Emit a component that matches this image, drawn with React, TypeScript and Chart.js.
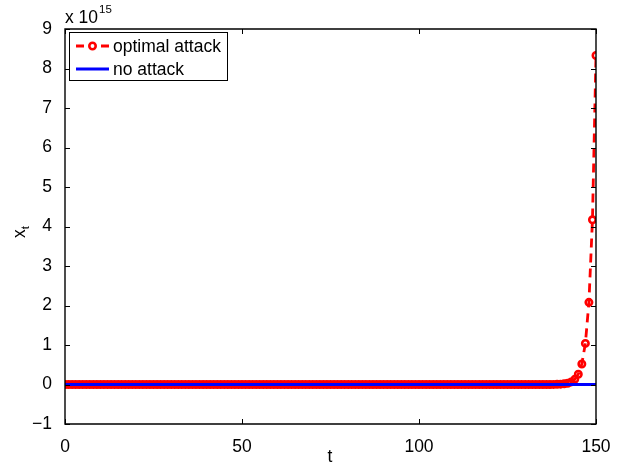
import React, { useEffect, useRef } from "react";
import { Chart, registerables } from "chart.js";

Chart.register(...registerables);

// x_t in units of 1e15, t = 0..150
const attackValues = [
  0, 0, 0, 0, 0, 0, 0, 0, 0, 0, // 0-9
  0, 0, 0, 0, 0, 0, 0, 0, 0, 0, // 10-19
  0, 0, 0, 0, 0, 0, 0, 0, 0, 0, // 20-29
  0, 0, 0, 0, 0, 0, 0, 0, 0, 0, // 30-39
  0, 0, 0, 0, 0, 0, 0, 0, 0, 0, // 40-49
  0, 0, 0, 0, 0, 0, 0, 0, 0, 0, // 50-59
  0, 0, 0, 0, 0, 0, 0, 0, 0, 0, // 60-69
  0, 0, 0, 0, 0, 0, 0, 0, 0, 0, // 70-79
  0, 0, 0, 0, 0, 0, 0, 0, 0, 0, // 80-89
  0, 0, 0, 0, 0, 0, 0, 0, 0, 0, // 90-99
  0, 0, 0, 0, 0, 0, 0, 0, 0, 0, // 100-109
  0, 0, 0, 0, 0, 0, 0, 0, 0, 0, // 110-119
  0, 0, 0, 0, 0, 0, 0, 0, 0, 0, // 120-129
  0, 0, 0, 0, 0, 0, 0, // 130-136
  0.001, 0.002, 0.004, 0.008, 0.016, 0.033, 0.065, // 137-143
  0.13, 0.26, 0.52, 1.04, 2.08, 4.17, 8.33, // 144-150
];

const noAttackValues = [
  0, 0, 0, 0, 0, 0, 0, 0, 0, 0,
  0, 0, 0, 0, 0, 0, 0, 0, 0, 0,
  0, 0, 0, 0, 0, 0, 0, 0, 0, 0,
  0, 0, 0, 0, 0, 0, 0, 0, 0, 0,
  0, 0, 0, 0, 0, 0, 0, 0, 0, 0,
  0, 0, 0, 0, 0, 0, 0, 0, 0, 0,
  0, 0, 0, 0, 0, 0, 0, 0, 0, 0,
  0, 0, 0, 0, 0, 0, 0, 0, 0, 0,
  0, 0, 0, 0, 0, 0, 0, 0, 0, 0,
  0, 0, 0, 0, 0, 0, 0, 0, 0, 0,
  0, 0, 0, 0, 0, 0, 0, 0, 0, 0,
  0, 0, 0, 0, 0, 0, 0, 0, 0, 0,
  0, 0, 0, 0, 0, 0, 0, 0, 0, 0,
  0, 0, 0, 0, 0, 0, 0, 0, 0, 0,
  0, 0, 0, 0, 0, 0, 0, 0, 0, 0,
  0,
];

const xTicks = [0, 50, 100, 150];
const yTicks = [-1, 0, 1, 2, 3, 4, 5, 6, 7, 8, 9];
const seriesNames = ["optimal attack", "no attack"];
const xTitle = "t";
const yTitleMain = "x";
const yTitleSub = "t";
const exponentLabel = "15";

const FONT = '"Liberation Sans", Arial, Helvetica, sans-serif';
const FS = 17.5;
const RED = "#ff0000";
const BLUE = "#0000ff";

const overlayPlugin = {
  id: "matlabOverlay",
  afterDraw(chart: any) {
    const { ctx, chartArea: a, scales } = chart;
    const xs = scales.x;
    const ys = scales.y;
    ctx.save();
    // box
    ctx.strokeStyle = "#000";
    ctx.lineWidth = 1.4;
    ctx.setLineDash([]);
    const L = Math.round(a.left);
    const R = Math.round(a.right);
    const T = Math.round(a.top);
    const B = Math.round(a.bottom);
    ctx.beginPath();
    ctx.rect(L, T, R - L, B - T);
    ctx.stroke();
    // ticks inward
    const tl = 5;
    ctx.lineWidth = 1;
    ctx.beginPath();
    for (const v of xTicks) {
      const px = Math.round(xs.getPixelForValue(v)) + 0.5;
      ctx.moveTo(px, B);
      ctx.lineTo(px, B - tl);
      ctx.moveTo(px, T);
      ctx.lineTo(px, T + tl);
    }
    for (const v of yTicks) {
      const py = Math.round(ys.getPixelForValue(v)) + 0.5;
      ctx.moveTo(L, py);
      ctx.lineTo(L + tl, py);
      ctx.moveTo(R, py);
      ctx.lineTo(R - tl, py);
    }
    ctx.stroke();

    // exponent label
    ctx.fillStyle = "#000";
    ctx.textBaseline = "alphabetic";
    ctx.textAlign = "left";
    ctx.font = `${FS}px ${FONT}`;
    ctx.fillText("x 10", 65, 23);
    const w = ctx.measureText("x 10").width;
    ctx.font = `11.5px ${FONT}`;
    ctx.fillText(exponentLabel, 65 + w + 1, 13);

    // x title
    ctx.font = `${FS}px ${FONT}`;
    ctx.textAlign = "center";
    ctx.fillText(xTitle, 330, 462);

    // y title rotated
    ctx.save();
    ctx.translate(25, 232);
    ctx.rotate(-Math.PI / 2);
    ctx.textAlign = "left";
    ctx.font = `${FS}px ${FONT}`;
    const mw = ctx.measureText(yTitleMain).width;
    const sub = 11.5;
    ctx.font = `${sub}px ${FONT}`;
    const sw = ctx.measureText(yTitleSub).width;
    const start = -(mw + sw) / 2;
    ctx.font = `${FS}px ${FONT}`;
    ctx.fillText(yTitleMain, start, 0);
    ctx.font = `${sub}px ${FONT}`;
    ctx.fillText(yTitleSub, start + mw, 4);
    ctx.restore();

    // legend
    const lx = 69.5, ly = 32.5, lw = 158, lh = 48;
    ctx.fillStyle = "#fff";
    ctx.fillRect(lx, ly, lw, lh);
    ctx.strokeStyle = "#000";
    ctx.lineWidth = 1;
    ctx.strokeRect(lx, ly, lw, lh);
    const r1 = 46, r2 = 69;
    ctx.strokeStyle = RED;
    ctx.lineWidth = 2.8;
    ctx.beginPath();
    ctx.moveTo(76, r1);
    ctx.lineTo(84, r1);
    ctx.moveTo(101, r1);
    ctx.lineTo(109, r1);
    ctx.stroke();
    ctx.beginPath();
    ctx.arc(92.5, r1, 3.2, 0, Math.PI * 2);
    ctx.lineWidth = 2.6;
    ctx.stroke();
    ctx.strokeStyle = BLUE;
    ctx.lineWidth = 2.8;
    ctx.beginPath();
    ctx.moveTo(76, r2);
    ctx.lineTo(109, r2);
    ctx.stroke();
    ctx.fillStyle = "#000";
    ctx.font = `${FS}px ${FONT}`;
    ctx.textAlign = "left";
    ctx.textBaseline = "middle";
    ctx.fillText(seriesNames[0], 113, r1 + 1);
    ctx.fillText(seriesNames[1], 113, r2 + 1);
    ctx.restore();
  },
};

export default function App() {
  const ref = useRef<HTMLCanvasElement | null>(null);
  useEffect(() => {
    document.body.style.margin = "0";
    const canvas = ref.current;
    if (!canvas) return;
    const attackPts = attackValues.map((y, i) => ({ x: i, y }));
    const noAttackPts = noAttackValues.map((y, i) => ({ x: i, y }));
    const chart = new Chart(canvas, {
      type: "line",
      data: {
        datasets: [
          {
            label: seriesNames[1],
            data: noAttackPts,
            borderColor: BLUE,
            borderWidth: 2.8,
            pointRadius: 0,
            tension: 0,
            order: 0,
          },
          {
            label: seriesNames[0],
            data: attackPts,
            borderColor: RED,
            borderWidth: 2.8,
            borderDash: [9, 6],
            pointRadius: 3.2,
            pointBorderWidth: 2.6,
            pointBorderColor: RED,
            pointBackgroundColor: "rgba(0,0,0,0)",
            pointStyle: "circle",
            tension: 0,
            order: 1,
          },
        ],
      },
      options: {
        responsive: false,
        animation: false,
        events: [],
        layout: { padding: { left: 0, right: 23, top: 29, bottom: 0 } },
        plugins: { legend: { display: false }, tooltip: { enabled: false } },
        scales: {
          x: {
            type: "linear",
            min: 0,
            max: 150,
            grid: { display: false },
            border: { display: false },
            afterBuildTicks: (s: any) => {
              s.ticks = xTicks.map((v) => ({ value: v }));
            },
            afterFit: (s: any) => {
              s.height = 40;
            },
            ticks: {
              padding: 5,
              color: "#000",
              font: { family: FONT, size: FS },
              maxRotation: 0,
              callback: (v: any) => String(v),
            },
          },
          y: {
            min: -1,
            max: 9,
            grid: { display: false },
            border: { display: false },
            afterBuildTicks: (s: any) => {
              s.ticks = yTicks.map((v) => ({ value: v }));
            },
            afterFit: (s: any) => {
              s.width = 65;
            },
            ticks: {
              padding: 5,
              color: "#000",
              font: { family: FONT, size: FS },
              callback: (v: any) => String(v).replace("-", "\u2212"),
            },
          },
        },
      },
      plugins: [overlayPlugin],
    });
    return () => chart.destroy();
  }, []);
  return <canvas ref={ref} width={619} height={464} style={{ display: "block" }} />;
}
